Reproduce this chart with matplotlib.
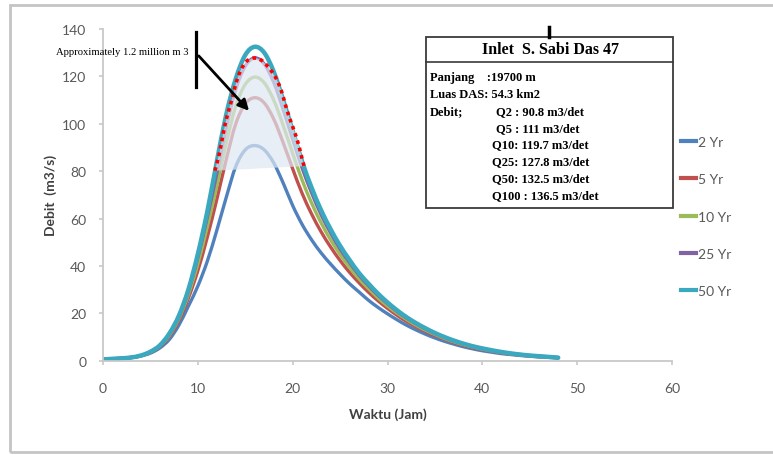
import matplotlib

matplotlib.use("Agg")
import matplotlib.pyplot as plt
from matplotlib.lines import Line2D
from matplotlib.patches import PathPatch, Rectangle
from matplotlib.path import Path

# hydrograph ordinates, one value per hour (0..48 jam)
hours = list(range(49))
q_2yr = [0.5, 0.8, 1.0, 1.3, 2.0, 3.2, 5.4, 9.0, 15.0, 23.0, 31.5, 42.0, 55.0, 69.0, 82.0, 89.0,
         90.8, 89.0, 83.5, 75.0, 65.5, 57.5, 51.0, 45.5, 40.8, 36.5, 32.5, 29.0, 25.5, 22.5, 19.8,
         17.3, 15.0, 13.0, 11.2, 9.6, 8.2, 7.0, 5.9, 5.0, 4.2, 3.6, 3.0, 2.6, 2.2, 1.9, 1.6, 1.4, 1.2]
q_5yr = [0.5, 0.8, 1.0, 1.3, 2.1, 3.5, 5.9, 10.2, 16.9, 26.4, 38.0, 52.2, 68.1, 85.0, 100.0, 108.4,
         111.0, 108.8, 102.0, 92.0, 81.0, 70.6, 61.9, 54.4, 48.0, 42.3, 37.3, 32.9, 28.9, 25.3, 22.1,
         19.2, 16.6, 14.4, 12.4, 10.6, 9.1, 7.7, 6.5, 5.5, 4.7, 4.0, 3.3, 2.8, 2.4, 2.0, 1.7, 1.5, 1.2]
q_10yr = [0.5, 0.8, 1.0, 1.4, 2.1, 3.6, 6.2, 10.7, 17.8, 27.9, 40.9, 56.6, 73.7, 91.9, 107.5, 116.6,
          119.7, 117.3, 110.0, 99.3, 87.5, 76.2, 66.5, 58.2, 51.0, 44.8, 39.4, 34.5, 30.4, 26.5, 23.1,
          20.1, 17.4, 15.0, 12.9, 11.1, 9.4, 8.0, 6.8, 5.8, 4.9, 4.2, 3.5, 2.9, 2.5, 2.1, 1.8, 1.5, 1.3]
q_25yr = [0.5, 0.8, 1.0, 1.4, 2.2, 3.7, 6.4, 11.2, 18.5, 29.2, 43.5, 60.6, 79.0, 98.3, 114.5, 124.3,
          127.8, 125.2, 117.5, 106.0, 93.5, 81.3, 70.8, 61.6, 53.9, 47.1, 41.4, 36.1, 31.7, 27.6, 24.1,
          20.8, 18.0, 15.6, 13.4, 11.5, 9.8, 8.3, 7.1, 6.0, 5.1, 4.3, 3.6, 3.0, 2.6, 2.2, 1.9, 1.6, 1.3]
q_50yr = [0.5, 0.8, 1.0, 1.4, 2.2, 3.8, 6.5, 11.5, 19.0, 30.0, 45.0, 63.0, 84.0, 104.0, 119.0, 129.0,
          132.5, 130.0, 122.0, 110.0, 97.0, 84.0, 73.0, 63.5, 55.5, 48.5, 42.5, 37.0, 32.5, 28.3, 24.6,
          21.3, 18.4, 15.9, 13.7, 11.7, 10.0, 8.5, 7.2, 6.1, 5.2, 4.4, 3.7, 3.1, 2.6, 2.2, 1.9, 1.6, 1.3]

series_labels = ["2 Yr", "5 Yr", "10 Yr", "25 Yr", "50 Yr"]
series_values = [q_2yr, q_5yr, q_10yr, q_25yr, q_50yr]
series_colors = ["#4f81bd", "#c0504d", "#9bbb59", "#8064a2", "#3aa9bf"]

# outline of the highlighted volume (red dotted)
vol_t = [11.8, 12.3, 12.7, 13.1, 13.6, 14.0, 14.5, 15.1, 15.7, 16.3, 16.9, 17.6, 18.25, 18.8,
         19.2, 19.65, 20.15, 20.6, 20.95, 21.2]
vol_q = [80.2, 88.0, 96.4, 103.4, 110.5, 116.8, 122.4, 126.2, 127.6, 127.6, 126.2, 123.1, 119.2,
         114.0, 108.4, 102.7, 97.1, 91.5, 85.9, 82.1]

info_title = "Inlet  S. Sabi Das 47"
info_rows = [
    ("Panjang    :19700 m", 0),
    ("Luas DAS: 54.3 km2", 0),
    ("Debit;", 0),
    ("Q5 : 111 m3/det", 1),
    ("Q10: 119.7 m3/det", 2),
    ("Q25: 127.8 m3/det", 2),
    ("Q50: 132.5 m3/det", 2),
    ("Q100 : 136.5 m3/det", 2),
]


def smooth_path(xs, ys):
    # Excel-style "smoothed line": cubic bezier through every point
    pts = list(zip(xs, ys))
    verts = [pts[0]]
    codes = [Path.MOVETO]
    n = len(pts)
    for i in range(n - 1):
        p0 = pts[max(i - 1, 0)]
        p1 = pts[i]
        p2 = pts[i + 1]
        p3 = pts[min(i + 2, n - 1)]
        c1 = (p1[0] + (p2[0] - p0[0]) / 6, p1[1] + (p2[1] - p0[1]) / 6)
        c2 = (p2[0] - (p3[0] - p1[0]) / 6, p2[1] - (p3[1] - p1[1]) / 6)
        verts += [c1, c2, p2]
        codes += [Path.CURVE4] * 3
    return Path(verts, codes)


W, H = 773, 456
fig = plt.figure(figsize=(W / 100, H / 100), dpi=100)
ax = fig.add_axes([103 / W, 1 - 361.7 / H, (672 - 103) / W, (361.7 - 30) / H])

tick_font = "Lato"
grey = "#595959"

for label, vals, col in zip(series_labels, series_values, series_colors):
    lw = 3.2 if label == "50 Yr" else 2.4
    ax.add_patch(PathPatch(smooth_path(hours, vals), fill=False, edgecolor=col, lw=lw,
                           capstyle="round", joinstyle="round", zorder=2))

ax.fill(vol_t, vol_q, facecolor="#dfe7f2", alpha=0.7, edgecolor="none", zorder=3)
ax.add_patch(PathPatch(smooth_path(vol_t, vol_q), fill=False, edgecolor="#ff0000", lw=2.6,
                       linestyle=(0, (1.0, 1.1)), zorder=4))

ax.set_xlim(0, 60)
ax.set_ylim(0, 140)
ax.set_xticks(range(0, 61, 10))
ax.set_yticks(range(0, 141, 20))
for side in ("top", "right"):
    ax.spines[side].set_visible(False)
for side in ("left", "bottom"):
    ax.spines[side].set_color("#c8c8c8")
    ax.spines[side].set_linewidth(1.3)
ax.tick_params(axis="both", colors="#c8c8c8", length=3, width=1.2, labelcolor=grey)
ax.tick_params(axis="x", pad=12)
ax.tick_params(axis="y", pad=9)
for lab in ax.get_xticklabels() + ax.get_yticklabels():
    lab.set_fontfamily(tick_font)
    lab.set_fontsize(10)

ax.set_xlabel("Waktu (Jam)", fontfamily=tick_font, fontsize=10, fontweight="bold", color="#404040",
              labelpad=10)
ax.set_ylabel("Debit  (m3/s)", fontfamily=tick_font, fontsize=10, fontweight="bold", color="#404040",
              labelpad=4)

# annotation: arrow pointing into the shaded volume
ax.plot([9.8, 9.8], [115.5, 138.7], color="black", lw=2.3, clip_on=False, zorder=5)
ax.annotate("", xy=(15.6, 104.6), xytext=(9.9, 129.5),
            arrowprops=dict(arrowstyle="-|>", color="black", lw=2, mutation_scale=16), zorder=5)
ax.text(9.0, 130.5, "Approximately 1.2 million m 3", ha="right", va="center",
        fontfamily="Liberation Serif", fontsize=7.7, color="black", zorder=5)

# legend
handles = [Line2D([], [], color=c, lw=3) for c in series_colors]
fig.legend(handles, series_labels, loc="upper left", bbox_to_anchor=(681 / W, 1 - 137 / H),
           frameon=False, borderpad=0, borderaxespad=0, handlelength=1.1, handletextpad=0.15,
           labelspacing=1.82, prop={"family": tick_font, "size": 10}, labelcolor=grey)

# info box
bx0, bx1, by0, by1 = 426, 673, 38, 209
fig.add_artist(Rectangle((bx0 / W, 1 - by1 / H), (bx1 - bx0) / W, (by1 - by0) / H,
                         transform=fig.transFigure, facecolor="white", edgecolor="#3a3a3a", lw=1.3,
                         zorder=6))
fig.add_artist(Line2D([bx0 / W, bx1 / W], [1 - 63 / H, 1 - 63 / H], transform=fig.transFigure,
                      color="#3a3a3a", lw=1.2, zorder=7))
fig.add_artist(Line2D([549 / W, 549 / W], [1 - 28 / H, 1 - 38 / H], transform=fig.transFigure,
                      color="black", lw=2.5, zorder=7))
fig.text(550 / W, 1 - 50 / H, info_title, ha="center", va="center", fontfamily="Liberation Serif",
         fontweight="bold", fontsize=11.5, zorder=8)
row_x = [430, 496, 492]
row_y = 78
for txt, col in info_rows:
    fig.text(row_x[col] / W, 1 - row_y / H, txt, ha="left", va="center",
             fontfamily="Liberation Serif", fontweight="bold", fontsize=9, zorder=8)
    if txt == "Debit;":
        fig.text(row_x[1] / W, 1 - row_y / H, "Q2 : 90.8 m3/det", ha="left", va="center",
                 fontfamily="Liberation Serif", fontweight="bold", fontsize=9, zorder=8)
    row_y += 16.9

# outer chart border
fig.add_artist(Rectangle((10 / W, 1 - 453 / H), 1, (453 - 6) / H, transform=fig.transFigure,
                         facecolor="none", edgecolor="#c4c4c4", lw=2, zorder=0))

fig.savefig("out.png", dpi=100)
